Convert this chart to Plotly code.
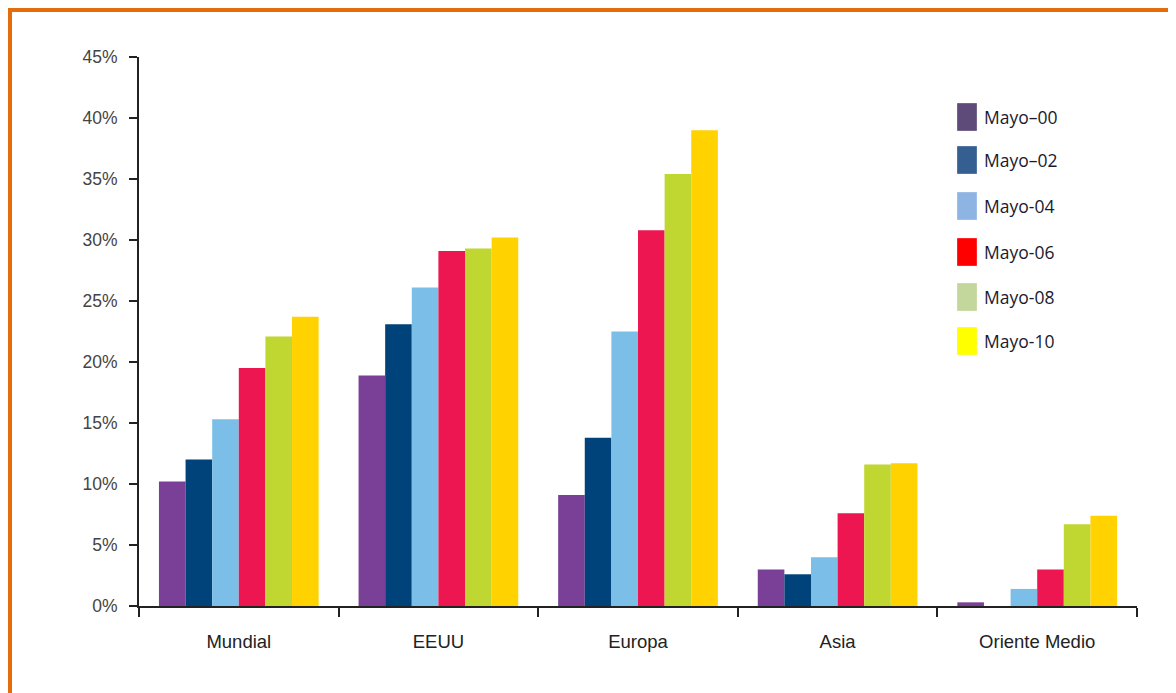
import plotly.graph_objects as go

categories = ["Mundial", "EEUU", "Europa", "Asia", "Oriente Medio"]
series_names = ["Mayo–00", "Mayo–02", "Mayo-04", "Mayo-06", "Mayo-08", "Mayo-10"]
mayo_00 = [10.2, 18.9, 9.1, 3.0, 0.3]
mayo_02 = [12.0, 23.1, 13.8, 2.6, 0.0]
mayo_04 = [15.3, 26.1, 22.5, 4.0, 1.4]
mayo_06 = [19.5, 29.1, 30.8, 7.6, 3.0]
mayo_08 = [22.1, 29.3, 35.4, 11.6, 6.7]
mayo_10 = [23.7, 30.2, 39.0, 11.7, 7.4]
series_values = [mayo_00, mayo_02, mayo_04, mayo_06, mayo_08, mayo_10]
bar_colors = ["#7A3F97", "#00427A", "#7BBFE8", "#EE1651", "#C0D631", "#FFD200"]
legend_colors = ["#5F4B7A", "#365F91", "#8EB4E3", "#FF0000", "#C3D69B", "#FFFF00"]
y_ticks = [0, 5, 10, 15, 20, 25, 30, 35, 40, 45]
y_tick_text = [f"{v}%" for v in y_ticks]

fig = go.Figure()
for name, vals, col in zip(series_names, series_values, bar_colors):
    fig.add_trace(go.Bar(x=categories, y=vals, name=name, marker_color=col,
                         marker_line_width=0, showlegend=False))

OFF = 8  # page body margin
W, H = 1176 - OFF, 693 - OFF
L, T = 139 - OFF, 57 - OFF
R = W - (1137 - OFF)
B = H - (606 - OFF)
pw, ph = W - L - R, H - T - B

def px_x(p):
    return (p - OFF - L) / pw

def px_y(p):
    return (H - B - (p - OFF)) / ph

shapes = []
annotations = []
# manual legend
leg_centers = [117, 160, 206, 252, 297, 341]
for name, col, cy in zip(series_names, legend_colors, leg_centers):
    shapes.append(dict(type="rect", xref="paper", yref="paper",
                       x0=px_x(957), x1=px_x(977), y0=px_y(cy + 14), y1=px_y(cy - 14),
                       fillcolor=col, line=dict(width=0.5, color="rgba(255,255,255,0.6)")))
    annotations.append(dict(xref="paper", yref="paper", x=px_x(982), y=px_y(cy),
                            text=name, showarrow=False, xanchor="left", yanchor="middle",
                            font=dict(family="Open Sans, Noto Sans, sans-serif", size=17.5, color="#1A1A2E")))
# orange frame
orange = "#E46C0A"
shapes.append(dict(type="rect", xref="paper", yref="paper",
                   x0=px_x(6), x1=px_x(1185), y0=px_y(12), y1=px_y(6),
                   fillcolor=orange, line=dict(width=0)))
shapes.append(dict(type="rect", xref="paper", yref="paper",
                   x0=px_x(6), x1=px_x(12), y0=px_y(700), y1=px_y(6),
                   fillcolor=orange, line=dict(width=0)))

fig.update_layout(
    width=W, height=H,
    margin=dict(l=L, r=R, t=T, b=B),
    paper_bgcolor="white", plot_bgcolor="white",
    barmode="group", bargap=0.2, bargroupgap=0,
    shapes=shapes, annotations=annotations,
    showlegend=False,
    font=dict(family="Liberation Sans, Arial, sans-serif"),
    xaxis=dict(type="category", showline=True, linecolor="#222", linewidth=2,
               ticks="outside", tickson="boundaries", ticklen=9, tickwidth=2, tickcolor="#222",
               tickfont=dict(size=18.5, color="#222"), ticklabelstandoff=18,
               showgrid=False, zeroline=False, range=[-0.5, 4.5]),
    yaxis=dict(range=[0, 45], tickmode="array", tickvals=y_ticks, ticktext=y_tick_text,
               showline=True, linecolor="#222", linewidth=2,
               ticks="outside", ticklen=8, tickwidth=2, tickcolor="#222",
               tickfont=dict(size=17.5, color="#444"), ticklabelstandoff=8,
               showgrid=False, zeroline=False),
)

fig.write_html("out.html")
